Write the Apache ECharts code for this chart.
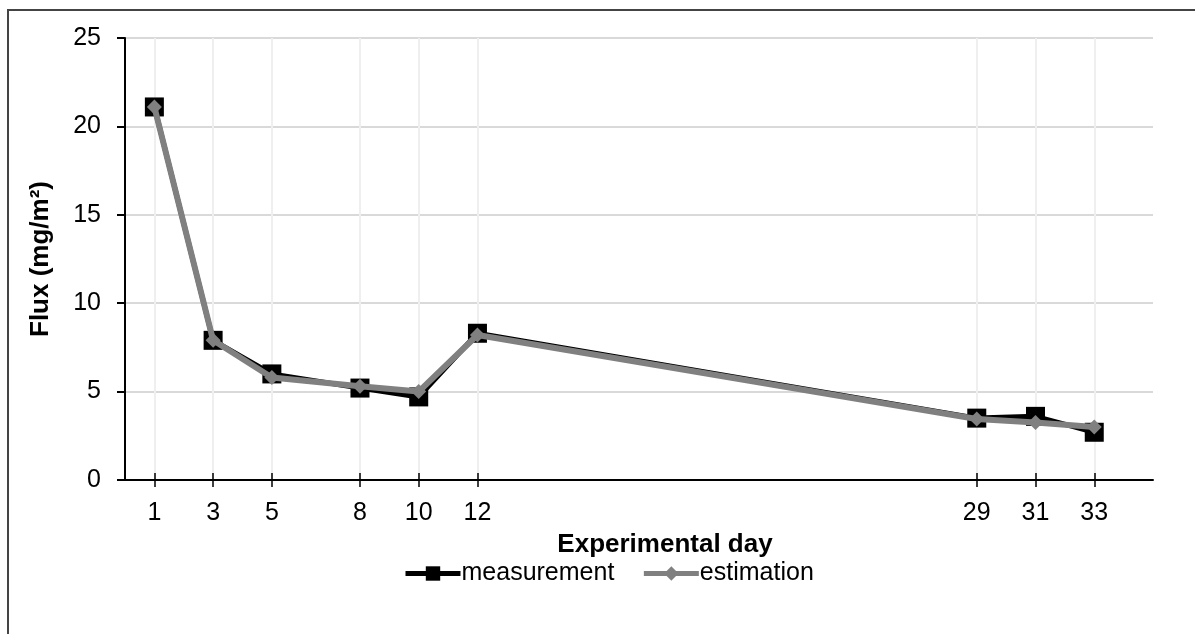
<!DOCTYPE html>
<html>
<head>
<meta charset="utf-8">
<script src="https://cdn.jsdelivr.net/npm/echarts@6/dist/echarts.min.js"></script>
<style>
html,body{margin:0;padding:0;background:#fff;}
#c{width:1195px;height:634px;}
</style>
</head>
<body>
<div id="c"></div>
<script>
const days = [1, 3, 5, 8, 10, 12, 29, 31, 33];
const measurement = [21.1, 7.9, 6.0, 5.2, 4.7, 8.3, 3.5, 3.6, 2.7];
const estimation = [21.1, 7.9, 5.8, 5.3, 5.0, 8.2, 3.45, 3.25, 3.0];
const xTitle = 'Experimental day';
const yTitle = 'Flux (mg/m²)';
const seriesNames = ['measurement', 'estimation'];

const FONT = '"Liberation Sans", Arial, sans-serif';
const chart = echarts.init(document.getElementById('c'), null, {renderer: 'canvas'});

const pair = arr => days.map((d, i) => [d, arr[i]]);

chart.setOption({
  animation: false,
  backgroundColor: '#fff',
  textStyle: {fontFamily: FONT},
  graphic: [{
    type: 'rect',
    shape: {x: 8, y: 10, width: 1400, height: 800},
    style: {fill: 'none', stroke: '#444', lineWidth: 2},
    silent: true,
    z: -10
  }],
  grid: {left: 125, right: 42, top: 38, bottom: 154, containLabel: false},
  legend: {
    left: 398,
    top: 556,
    itemWidth: 55,
    itemHeight: 18,
    itemGap: 27,
    textStyle: {fontSize: 25, color: '#000', fontFamily: FONT, padding: [0, 0, 0, -4]},
    data: [
      {name: seriesNames[0], lineStyle: {width: 5}},
      {name: seriesNames[1], lineStyle: {width: 5}}
    ]
  },
  xAxis: [{
    type: 'value',
    min: 0, max: 35, interval: 1,
    position: 'bottom',
    name: xTitle,
    nameLocation: 'middle',
    nameGap: 52,
    nameTextStyle: {fontSize: 26, fontWeight: 'bold', color: '#000', fontFamily: FONT, padding: [0, 0, 0, 52]},
    axisLine: {lineStyle: {color: '#000', width: 2}},
    axisTick: {show: true, inside: false, length: 7, customValues: days, lineStyle: {color: '#000', width: 1.5}},
    axisLabel: {customValues: days, fontSize: 25, color: '#000', margin: 21, fontFamily: FONT},
    splitLine: {show: true, lineStyle: {color: '#efefef', width: 2}}
  }, {
    type: 'value',
    min: 0, max: 35, interval: 1,
    position: 'bottom',
    axisLine: {show: false},
    axisTick: {show: true, inside: true, length: 7, customValues: days, lineStyle: {color: '#000', width: 1.5}},
    axisLabel: {show: false},
    splitLine: {show: false}
  }],
  yAxis: {
    type: 'value',
    min: 0, max: 25, interval: 5,
    name: yTitle,
    nameLocation: 'middle',
    nameGap: 71,
    nameTextStyle: {fontSize: 26, fontWeight: 'bold', color: '#000', fontFamily: FONT},
    axisLine: {show: true, lineStyle: {color: '#000', width: 2}},
    axisTick: {show: true, inside: false, length: 8, lineStyle: {color: '#000', width: 2}},
    axisLabel: {fontSize: 25, color: '#000', margin: 24, fontFamily: FONT},
    splitLine: {show: true, lineStyle: {color: '#d9d9d9', width: 2}}
  },
  series: [{
    name: seriesNames[0],
    type: 'line',
    xAxisIndex: 0,
    data: pair(measurement),
    symbol: 'rect',
    symbolSize: 19,
    lineStyle: {color: '#000', width: 5},
    itemStyle: {color: '#000'},
    z: 2
  }, {
    name: seriesNames[1],
    type: 'line',
    xAxisIndex: 0,
    data: pair(estimation),
    symbol: 'diamond',
    symbolSize: 15,
    lineStyle: {color: '#808080', width: 6},
    itemStyle: {color: '#808080'},
    z: 3
  }]
});
</script>
</body>
</html>
